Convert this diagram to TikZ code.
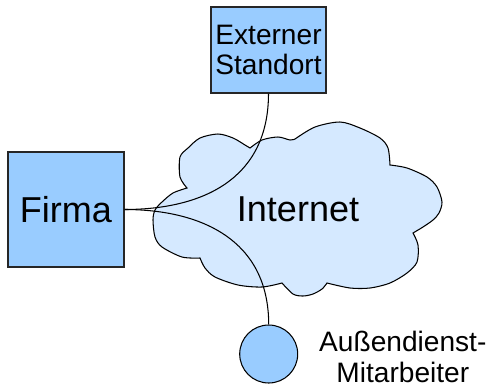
\documentclass[tikz,border=0pt]{standalone}
\usepackage{fontspec}
\setmainfont{Liberation Sans}
\usetikzlibrary{positioning}

\definecolor{siteblue}{HTML}{99CCFF}
\definecolor{cloudblue}{HTML}{D5E9FF}

\begin{document}
\begin{tikzpicture}[x=0.02cm, y=-0.02cm, line width=0.6pt,
        site/.style={draw=black!85, fill=siteblue, inner sep=0pt},
        bigtext/.style={font=\fontsize{20.5}{24}\selectfont},
        smalltext/.style={font=\fontsize{16}{17.3}\selectfont, align=center}]
        \useasboundingbox (0,0) rectangle (487,386);
        % Wolke
        \filldraw[draw=black, fill=cloudblue]
        plot[smooth] coordinates {(187,188) (180,177) (180,157) (188,148) (200,138) (218,134) (233,138) (245,145) (250,148)}
        -- plot[smooth] coordinates {(250,148) (262,140) (278,137) (290,140) (295,139)}
        -- plot[smooth] coordinates {(295,139) (315,127) (340,122) (360,128) (380,138) (388,148) (390,165)}
        -- plot[smooth] coordinates {(390,165) (407,168) (427,177) (437,187) (442,202) (439,213) (433,220) (423,227) (413,233)}
        -- plot[smooth] coordinates {(413,233) (418,245) (417,262) (407,273) (390,283) (370,288) (350,288) (327,283)}
        -- plot[smooth] coordinates {(327,283) (322,289) (313,294) (303,296) (293,294) (282,283)}
        -- plot[smooth] coordinates {(282,283) (262,287) (238,285) (215,277) (205,268) (200,258)}
        -- plot[smooth] coordinates {(200,258) (182,257) (162,247) (155,237) (153,220) (155,210) (162,202) (173,193) (187,188)}
        -- cycle;
        \node[bigtext] (internet) at (298,209.5) {Internet};
        \node[site, bigtext, minimum width=2.32cm, minimum height=2.3cm] (firma) at (66,209.5) {Firma};
        \node[site, smalltext, minimum width=2.3cm, minimum height=1.72cm] (standort) at (268.5,50) {\raisebox{-0.04cm}{Externer}\\\raisebox{-0.04cm}{Standort}};
        \node[circle, draw=black, fill=siteblue, minimum size=1.16cm, inner sep=0pt] (aussen) at (268.7,354) {};
        \node[smalltext, inner sep=0pt, right=0.41cm of aussen, yshift=-0.06cm] (aussentext) {Außendienst-\\Mitarbeiter};
        \draw (firma.east) .. controls +(76,0) and +(0,87) .. (standort.south);
        \draw (firma.east) .. controls +(76,0) and +(0,-85) .. (aussen.north);
\end{tikzpicture}
\end{document}
